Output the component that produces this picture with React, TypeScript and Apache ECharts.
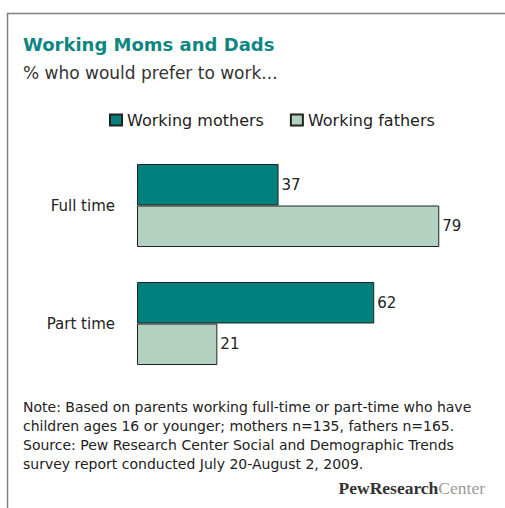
import React, { useEffect, useRef } from "react";
import * as echarts from "echarts";

const categories = ["Full time", "Part time"];
const seriesNames = ["Working mothers", "Working fathers"];
const mothers = [37, 62];
const fathers = [79, 21];
const titleText = "Working Moms and Dads";
const subtitleText = "% who would prefer to work...";
const noteLines = [
  "Note: Based on parents working full-time or part-time who have",
  "children ages 16 or younger; mothers n=135, fathers n=165.",
  "Source: Pew Research Center Social and Demographic Trends",
  "survey report conducted July 20-August 2, 2009.",
];

const TEAL = "#00807c";
const LIGHT = "#b3d1c0";
const FONT = "DejaVu Sans";

export default function App() {
  const ref = useRef<HTMLDivElement>(null);
  useEffect(() => {
    document.body.style.margin = "0";
    const chart = echarts.init(ref.current!, undefined, { renderer: "svg" });
    chart.setOption({
      animation: false,
      backgroundColor: "#ffffff",
      legend: {
        data: seriesNames,
        left: 104,
        top: 107,
        itemWidth: 12,
        itemHeight: 11,
        itemGap: 26,
        icon: "rect",
        textStyle: { fontFamily: FONT, fontSize: 16, color: "#222" },
      },
      grid: { left: 137, top: 146.5, height: 236, width: 306.1 },
      xAxis: {
        type: "value",
        min: 0,
        max: 80,
        show: false,
        splitLine: { show: false },
      },
      yAxis: {
        type: "category",
        data: categories,
        inverse: true,
        axisLine: { show: false },
        axisTick: { show: false },
        axisLabel: { margin: 22, fontFamily: FONT, fontSize: 15, color: "#222" },
      },
      series: [
        {
          name: seriesNames[0],
          type: "bar",
          data: mothers,
          barWidth: 41.5,
          barGap: "0%",
          itemStyle: { color: TEAL, borderColor: "#222", borderWidth: 1 },
          label: { show: true, position: "right", distance: 3, color: "#222", fontFamily: FONT, fontSize: 15 },
        },
        {
          name: seriesNames[1],
          type: "bar",
          data: fathers,
          barWidth: 41.5,
          barGap: "0%",
          itemStyle: { color: LIGHT, borderColor: "#222", borderWidth: 1 },
          label: { show: true, position: "right", distance: 3, color: "#222", fontFamily: FONT, fontSize: 15 },
        },
      ],
      graphic: [
        {
          type: "rect",
          shape: { x: 7.5, y: 13.5, width: 620, height: 620 },
          style: { fill: "none", stroke: "#808080", lineWidth: 1.5 },
          silent: true,
        },
        {
          type: "text",
          x: 23,
          y: 44,
          style: { text: titleText, fill: "#0f8682", font: `bold 18px "${FONT}"`, textVerticalAlign: "middle" },
        },
        {
          type: "text",
          x: 23,
          y: 73,
          style: { text: subtitleText, fill: "#333", font: `17px "${FONT}"`, textVerticalAlign: "middle" },
        },
        {
          type: "text",
          x: 23,
          y: 397.5,
          style: { text: noteLines.join("\n"), fill: "#222", font: `14px "${FONT}"`, lineHeight: 19 },
        },
        {
          type: "text",
          x: 485,
          y: 488,
          style: {
            text: "{a|PewResearch}{b|Center}",
            align: "right",
            verticalAlign: "middle",
            rich: {
              a: { fontFamily: "Liberation Serif", fontWeight: "bold", fontSize: 17.5, fill: "#333" },
              b: { fontFamily: "Liberation Serif", fontSize: 17.5, fill: "#9a9a9a" },
            },
          },
        },
      ],
    });
    return () => chart.dispose();
  }, []);
  return <div ref={ref} style={{ width: 505, height: 508 }} />;
}
